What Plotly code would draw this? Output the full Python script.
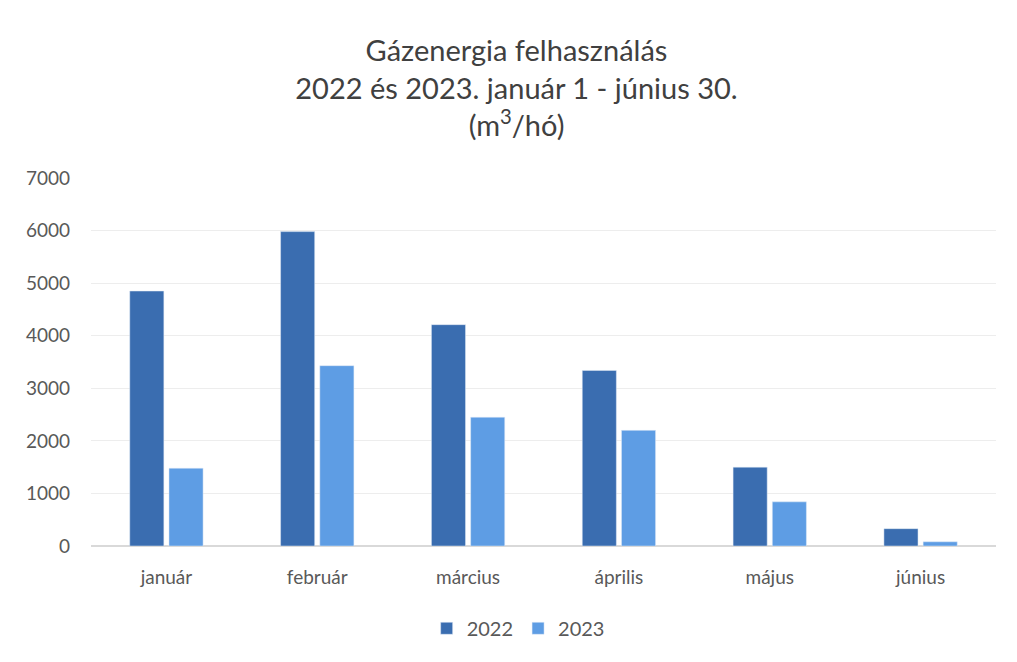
import plotly.graph_objects as go

honapok = ["január", "február", "március", "április", "május", "június"]
ev_2022 = [4850, 5980, 4210, 3340, 1500, 330]
ev_2023 = [1480, 3430, 2450, 2200, 840, 80]

fig = go.Figure()
fig.add_trace(go.Bar(x=honapok, y=ev_2022, name="2022", marker_color="#3a6db0"))
fig.add_trace(go.Bar(x=honapok, y=ev_2023, name="2023", marker_color="#5e9de4"))

fig.update_layout(
    width=1017, height=662,
    paper_bgcolor="white", plot_bgcolor="white",
    font=dict(family="Lato, Open Sans, sans-serif", color="#595959", size=19),
    title=dict(
        text="Gázenergia felhasználás<br>2022 és 2023. január 1 - június 30.<br>(m<sup>3</sup>/hó)",
        x=0.5, xanchor="center", y=0.92, yanchor="top",
        font=dict(size=29, color="#404040"),
    ),
    margin=dict(l=83, r=29, t=170, b=124, autoexpand=False),
    barmode="group", bargap=0.48, bargroupgap=0.13,
    legend=dict(orientation="h", x=0.472, xanchor="center", yref="container", y=0.063,
                yanchor="middle", itemwidth=30, font=dict(size=20, color="#595959")),
    xaxis=dict(showgrid=False, showline=False, ticks="", automargin=False,
               ticklabelstandoff=18),
    yaxis=dict(range=[0, 7000], dtick=1000, gridcolor="#ededed", zeroline=True,
               zerolinecolor="#d9d9d9", ticks="", ticklabelstandoff=20, automargin=False),
    showlegend=True,
)

fig.write_html("out.html")
